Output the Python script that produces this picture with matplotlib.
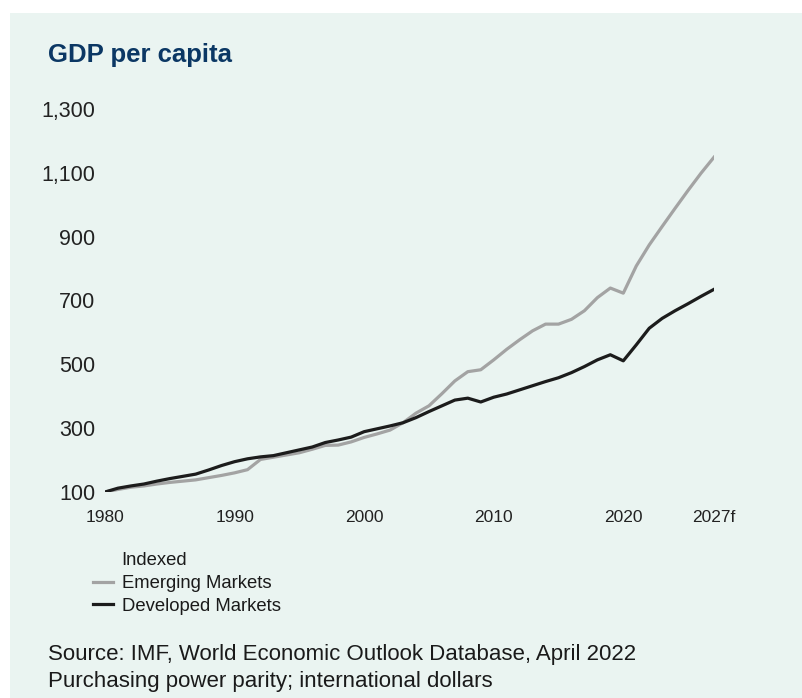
import matplotlib
matplotlib.use("Agg")
import matplotlib.pyplot as plt
import matplotlib.patches as mpatches
from matplotlib.lines import Line2D
import numpy as np

plt.rcParams["font.family"] = ["Liberation Sans", "DejaVu Sans"]

# Data (indexed, 1980 = 100)
years = list(range(1980, 2028))
emerging = [100, 108, 115, 119, 125, 130, 134, 138, 145, 152,
            160, 170, 202, 209, 216, 223, 234, 246, 247, 257,
            271, 282, 294, 317, 347, 370, 408, 448, 477, 483,
            514, 547, 577, 605, 626, 626, 641, 668, 709, 739,
            723, 808, 874, 932, 989, 1045, 1099, 1149]
developed = [100, 112, 119, 125, 134, 142, 149, 156, 169, 183,
             195, 204, 210, 214, 223, 232, 241, 255, 263, 272,
             289, 298, 307, 317, 333, 352, 370, 388, 394, 382,
             397, 407, 420, 433, 446, 458, 474, 493, 514, 530,
             511, 561, 613, 644, 668, 690, 713, 735]

x_ticks = [1980, 1990, 2000, 2010, 2020, 2027]
x_labels = ["1980", "1990", "2000", "2010", "2020", "2027f"]
y_ticks = [100, 300, 500, 700, 900, 1100, 1300]
y_labels = ["100", "300", "500", "700", "900", "1,100", "1,300"]

BG = "#eaf4f1"
GREY = "#a3a3a3"
BLACK = "#1c1c1c"
NAVY = "#0b3764"

W, H = 802, 698
fig = plt.figure(figsize=(W / 100, H / 100), dpi=100)
fig.patch.set_facecolor("white")
# light panel behind everything, leaving a thin white margin top/left
fig.patches.append(mpatches.Rectangle((10 / W, 0), 1, (H - 13) / H,
                                      transform=fig.transFigure,
                                      facecolor=BG, edgecolor="none", zorder=-10))

ax = fig.add_axes([105 / W, 1 - 492 / H, (714 - 105) / W, (492 - 109) / H])
ax.set_facecolor("none")
ax.plot(years, emerging, color=GREY, lw=2.3, label="Emerging Markets")
ax.plot(years, developed, color=BLACK, lw=2.3, label="Developed Markets")
ax.set_xlim(1980, 2027)
ax.set_ylim(100, 1300)
ax.set_xticks(x_ticks)
ax.set_xticklabels(x_labels, fontsize=12.5, color="#222222")
ax.set_yticks(y_ticks)
ax.set_yticklabels(y_labels, fontsize=15.5, color="#222222")
ax.tick_params(axis="x", length=0, pad=13)
ax.tick_params(axis="y", length=0, pad=7)
for s in ax.spines.values():
    s.set_visible(False)

fig.text(48 / W, 1 - 62 / H, "GDP per capita", fontsize=18.5, fontweight="bold",
         color=NAVY, va="baseline")

fig.text(121 / W, 1 - 565 / H, "Indexed", fontsize=13.3, color="#1a1a1a",
         va="baseline")
handles = [Line2D([], [], color=GREY, lw=2.3), Line2D([], [], color=BLACK, lw=2.3)]
fig.legend(handles, ["Emerging Markets", "Developed Markets"],
           loc="upper left", bbox_to_anchor=(93 / W, 1 - 575 / H),
           frameon=False, fontsize=13.3, handlelength=1.1, handletextpad=0.45,
           labelspacing=0.3, borderpad=0, borderaxespad=0, labelcolor="#1a1a1a")

fig.text(48 / W, 1 - 660 / H, "Source: IMF, World Economic Outlook Database, April 2022",
         fontsize=16, color="#1a1a1a", va="baseline")
fig.text(48 / W, 1 - 686.5 / H, "Purchasing power parity; international dollars",
         fontsize=16, color="#1a1a1a", va="baseline")

fig.savefig("out.png", dpi=100, facecolor=fig.get_facecolor())
